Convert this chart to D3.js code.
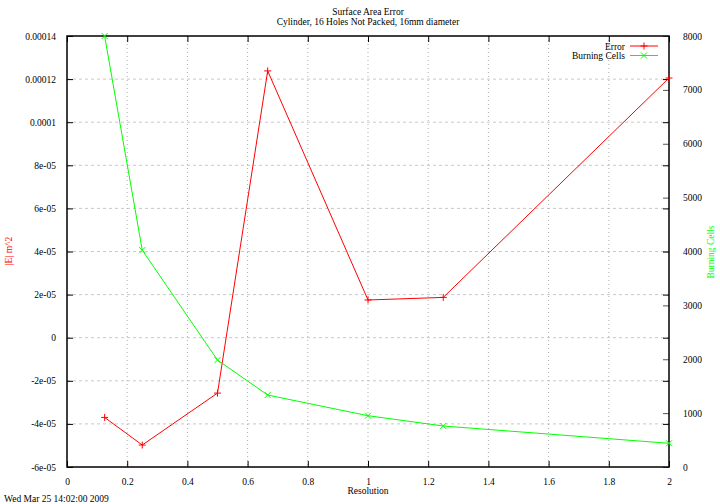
<!DOCTYPE html>
<html>
<head>
<meta charset="utf-8">
<script src="https://cdn.jsdelivr.net/npm/d3@7"></script>
<style>
  body { margin: 0; background: #fff; }
  svg text { font-family: "Liberation Serif", "Times New Roman", serif !important; font-size: 9.5px; }
</style>
</head>
<body>
<div id="chart"></div>
<script>

// data
var resolution = [0.125, 0.25, 0.5, 0.6667, 1, 1.25, 2];
var errorValues = [-3.7e-5, -4.98e-5, -2.57e-5, 1.238e-4, 1.75e-5, 1.87e-5, 1.205e-4];
var burningCells = [8000, 4025, 1985, 1336, 952, 761, 440];

var xTicks = [0, 0.2, 0.4, 0.6, 0.8, 1, 1.2, 1.4, 1.6, 1.8, 2];
var yTicks = [-6e-5, -4e-5, -2e-5, 0, 2e-5, 4e-5, 6e-5, 8e-5, 1e-4, 1.2e-4, 1.4e-4];
var yTickLabels = ["-6e-05", "-4e-05", "-2e-05", "0", "2e-05", "4e-05", "6e-05", "8e-05", "0.0001", "0.00012", "0.00014"];
var y2Ticks = [0, 1000, 2000, 3000, 4000, 5000, 6000, 7000, 8000];

// set the dimensions and margins of the graph
var margin = {top: 36, right: 51, bottom: 37, left: 67},
    width = 720 - margin.left - margin.right,
    height = 504 - margin.top - margin.bottom;

var root = d3.select("#chart")
  .append("svg")
    .attr("width", 720)
    .attr("height", 504);

var svg = root.append("g")
    .attr("transform", "translate(" + margin.left + "," + margin.top + ")");

var x = d3.scaleLinear().domain([0, 2]).range([0, width]);
var y = d3.scaleLinear().domain([-6e-5, 1.4e-4]).range([height, 0]);
var y2 = d3.scaleLinear().domain([0, 8000]).range([height, 0]);

// grid
svg.selectAll(".hgrid")
  .data(yTicks.slice(1, -1))
  .enter().append("line")
    .attr("x1", 0).attr("x2", width)
    .attr("y1", function(d) { return y(d); })
    .attr("y2", function(d) { return y(d); })
    .style("stroke", "#c8c8c8")
    .style("stroke-dasharray", "3,3");

svg.selectAll(".vgrid")
  .data(xTicks.slice(1, -1))
  .enter().append("line")
    .attr("y1", 0).attr("y2", height)
    .attr("x1", function(d) { return x(d); })
    .attr("x2", function(d) { return x(d); })
    .style("stroke", "#b0b0b0")
    .style("stroke-dasharray", "1,3");

// axes, ticks drawn inward like gnuplot
svg.append("g")
  .call(d3.axisLeft(y).tickValues(yTicks).tickSizeInner(-6).tickSizeOuter(0).tickPadding(11)
    .tickFormat(function(d, i) { return yTickLabels[i]; }));

svg.append("g")
  .attr("transform", "translate(" + width + ",0)")
  .call(d3.axisRight(y).tickValues(yTicks).tickSizeInner(-6).tickSizeOuter(0).tickFormat(""));

svg.append("g")
  .attr("class", "y2axis")
  .attr("transform", "translate(" + width + ",0)")
  .call(d3.axisRight(y2).tickValues(y2Ticks).tickSizeInner(-6).tickSizeOuter(0).tickPadding(14)
    .tickFormat(d3.format("d")));

svg.append("g")
  .attr("transform", "translate(0," + height + ")")
  .call(d3.axisBottom(x).tickValues(xTicks).tickSizeInner(-6).tickSizeOuter(0).tickPadding(11)
    .tickFormat(d3.format("")));

svg.append("g")
  .call(d3.axisTop(x).tickValues(xTicks).tickSizeInner(-6).tickSizeOuter(0).tickFormat(""));

svg.selectAll(".domain").remove();
svg.selectAll("g").attr("font-family", "Liberation Serif").attr("font-size", 9.5);
svg.selectAll(".tick line").attr("stroke", "#000");
svg.selectAll(".y2axis .tick line").attr("stroke", "#555");

// border
svg.append("rect")
  .attr("width", width).attr("height", height)
  .style("fill", "none").style("stroke", "#000").style("stroke-width", 1.5);

// lines
var errLine = d3.line()
  .x(function(d, i) { return x(resolution[i]); })
  .y(function(d) { return y(d); });
var cellLine = d3.line()
  .x(function(d, i) { return x(resolution[i]); })
  .y(function(d) { return y2(d); });

svg.append("path").datum(errorValues)
  .attr("d", errLine).style("fill", "none").style("stroke", "#ff0000");
svg.append("path").datum(burningCells)
  .attr("d", cellLine).style("fill", "none").style("stroke", "#00ff00");

var plusPath = "M-3.5,0H3.5M0,-3.5V3.5";
var crossPath = "M-3,-3L3,3M-3,3L3,-3";

svg.selectAll(".errpt")
  .data(errorValues)
  .enter().append("path")
    .attr("transform", function(d, i) { return "translate(" + x(resolution[i]) + "," + y(d) + ")"; })
    .attr("d", plusPath)
    .style("stroke", "#ff0000");

svg.selectAll(".cellpt")
  .data(burningCells)
  .enter().append("path")
    .attr("transform", function(d, i) { return "translate(" + x(resolution[i]) + "," + y2(d) + ")"; })
    .attr("d", crossPath)
    .style("stroke", "#00ff00");

// legend
var legend = [
  {name: "Error", color: "#ff0000", mark: plusPath},
  {name: "Burning Cells", color: "#00ff00", mark: crossPath}
];
var lg = svg.selectAll(".legend")
  .data(legend)
  .enter().append("g")
    .attr("transform", function(d, i) { return "translate(0," + (10 + i * 9.5) + ")"; });
lg.append("text")
  .attr("x", 558).attr("y", 3.5)
  .attr("text-anchor", "end")
  .text(function(d) { return d.name; });
lg.append("line")
  .attr("x1", 563).attr("x2", 591)
  .style("stroke", function(d) { return d.color; });
lg.append("path")
  .attr("transform", "translate(577,0)")
  .attr("d", function(d) { return d.mark; })
  .style("stroke", function(d) { return d.color; });

// titles and labels
root.append("text")
  .attr("x", 368).attr("y", 15)
  .attr("text-anchor", "middle")
  .text("Surface Area Error");
root.append("text")
  .attr("x", 368).attr("y", 25)
  .attr("text-anchor", "middle")
  .text("Cylinder, 16 Holes Not Packed, 16mm diameter");

root.append("text")
  .attr("transform", "translate(12,251)rotate(-90)")
  .attr("text-anchor", "middle")
  .style("fill", "#ff0000")
  .text("|E| m^2");

root.append("text")
  .attr("transform", "translate(714,252)rotate(-90)")
  .attr("text-anchor", "middle")
  .style("fill", "#00ff00")
  .text("Burning Cells");

root.append("text")
  .attr("x", 368).attr("y", 494)
  .attr("text-anchor", "middle")
  .text("Resolution");

root.append("text")
  .attr("x", 4).attr("y", 502)
  .text("Wed Mar 25 14:02:00 2009");

</script>
</body>
</html>
